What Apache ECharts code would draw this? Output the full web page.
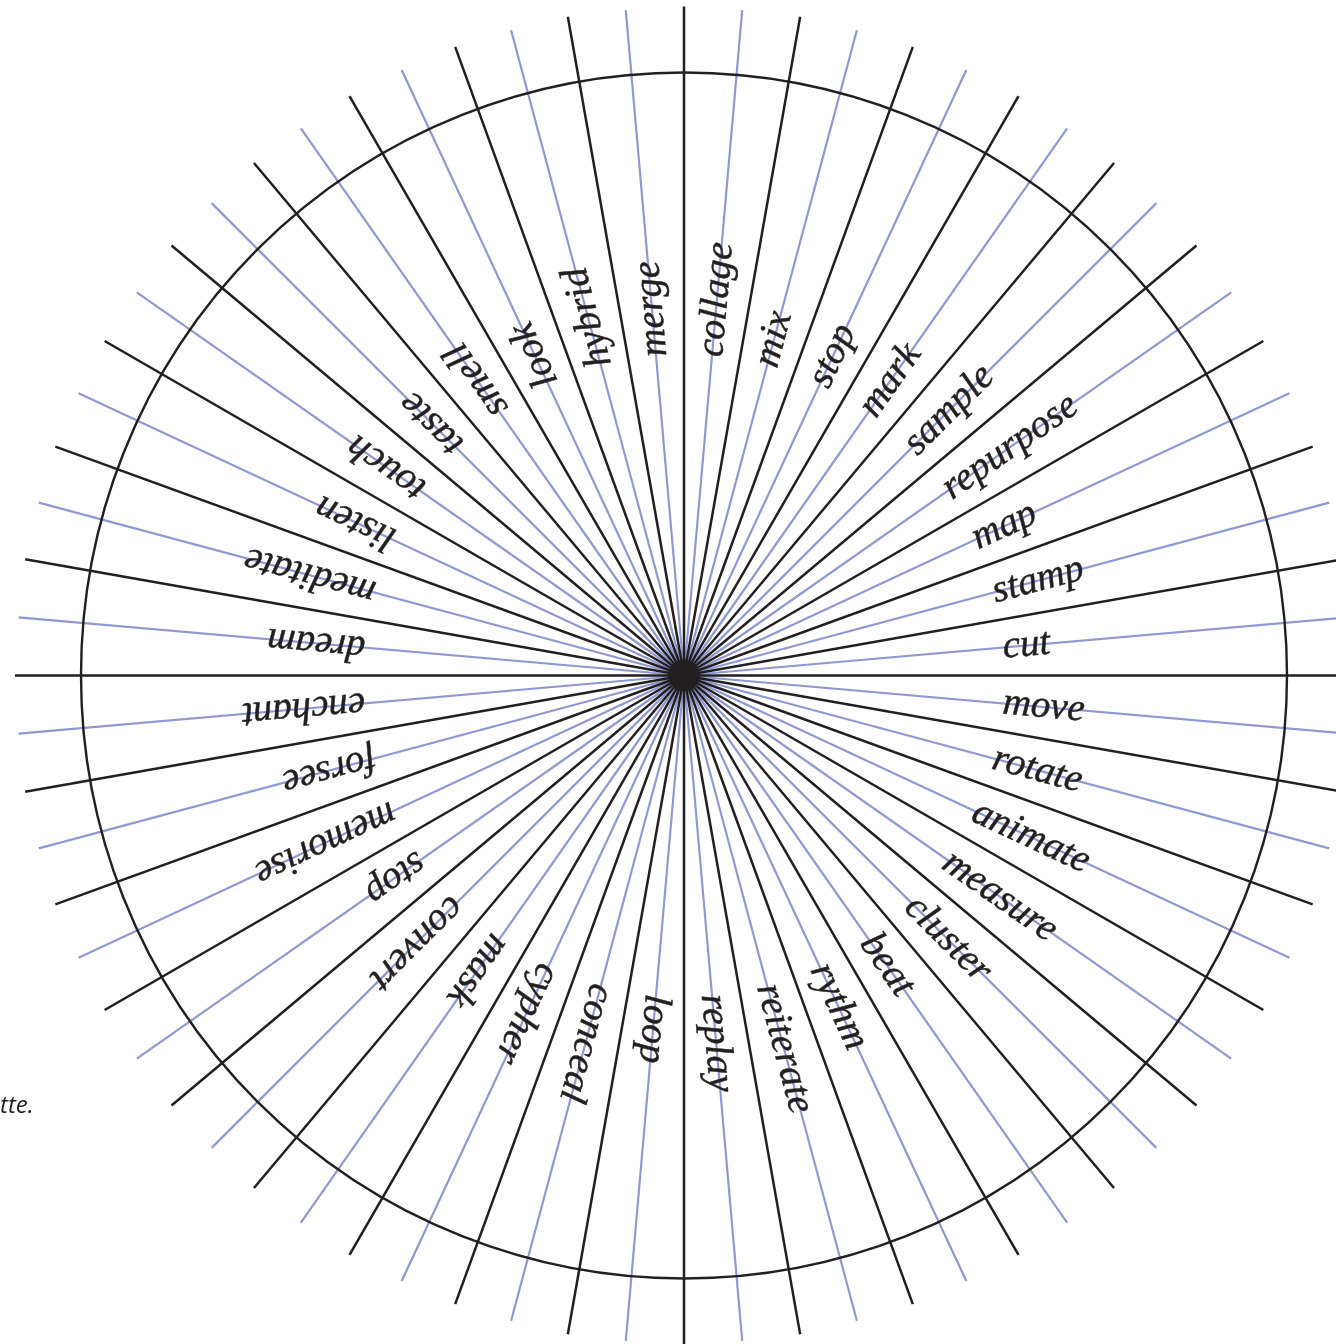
<!DOCTYPE html>
<html>
<head>
<meta charset="utf-8">
<style>
html,body{margin:0;padding:0;background:#fff;}
#chart{width:1336px;height:1344px;}
</style>
<script src="https://cdn.jsdelivr.net/npm/echarts@6/dist/echarts.min.js"></script>
</head>
<body>
<div id="chart"></div>
<script>
// Words, clockwise from the top
const words = ['collage','mix','stop','mark','sample','repurpose','map','stamp','cut',
  'move','rotate','animate','measure','cluster','beat','rythm','reiterate','replay',
  'loop','conceal','cypher','mask','convert','stop','memorise','forsee','enchant',
  'dream','meditate','listen','touch','taste','smell','look','hybrid','merge'];
const captionText = 'tte.';

const INK = '#231f20';
const BLUE = '#8f99d1';
const CENTER = [684, 675.5];
const SPOKE_R = 669;
const RING_R = 603;
const LABEL_R = 320;

const chart = echarts.init(document.getElementById('chart'), null, {renderer: 'canvas'});

const n = words.length;
const step = 360 / n;
const labelData = words.map((w, i) => {
  const compass = step / 2 + step * i;
  return {
    value: [LABEL_R, i],
    name: w,
    label: {rotate: 90 - compass}
  };
});

const hiddenRadius = (idx, max) => ({
  polarIndex: idx, type: 'value', min: 0, max: max,
  axisLine: {show: false}, axisTick: {show: false},
  axisLabel: {show: false}, splitLine: {show: false}, splitArea: {show: false}
});

const option = {
  animation: false,
  backgroundColor: '#ffffff',
  polar: [
    {center: CENTER, radius: SPOKE_R},
    {center: CENTER, radius: SPOKE_R - 1},
    {center: CENTER, radius: RING_R}
  ],
  radiusAxis: [hiddenRadius(0, SPOKE_R), hiddenRadius(1, SPOKE_R - 1), hiddenRadius(2, RING_R)],
  angleAxis: [
    {
      polarIndex: 0, type: 'category', data: words, startAngle: 90, clockwise: true,
      boundaryGap: true, z: 2,
      axisLine: {show: false}, axisTick: {show: false, interval: 0},
      axisLabel: {show: false, interval: 0},
      splitLine: {show: true, interval: 0, lineStyle: {color: INK, width: 2.5}}
    },
    {
      polarIndex: 1, type: 'category', data: words, startAngle: 90 - step / 2, clockwise: true,
      boundaryGap: true, z: 1,
      axisLine: {show: false}, axisTick: {show: false, interval: 0},
      axisLabel: {show: false, interval: 0},
      splitLine: {show: true, interval: 0, lineStyle: {color: BLUE, width: 2.2}}
    },
    {
      polarIndex: 2, type: 'value', min: 0, max: 360, startAngle: 90, z: 2,
      axisLine: {show: true, lineStyle: {color: INK, width: 2.4}},
      axisTick: {show: false}, axisLabel: {show: false}, splitLine: {show: false}
    }
  ],
  graphic: [
    {
      type: 'text', left: 0, top: 1094, z: 10,
      style: {text: captionText, font: 'italic 24px "Open Sans"', fill: INK}
    }
  ],
  series: [
    {
      type: 'scatter', coordinateSystem: 'polar', polarIndex: 0,
      symbolSize: 31, itemStyle: {color: INK, opacity: 1}, z: 4, silent: true,
      data: [[0, 0]]
    },
    {
      type: 'scatter', coordinateSystem: 'polar', polarIndex: 0,
      symbolSize: 0, z: 5, silent: true,
      itemStyle: {opacity: 1},
      label: {
        show: true, position: 'inside', align: 'left', verticalAlign: 'middle',
        formatter: '{b}', color: INK, opacity: 1, fontFamily: 'Liberation Serif',
        fontStyle: 'italic', fontSize: 39,
        textBorderColor: INK, textBorderWidth: 0.5
      },
      data: labelData
    }
  ]
};
chart.setOption(option);
</script>
</body>
</html>
